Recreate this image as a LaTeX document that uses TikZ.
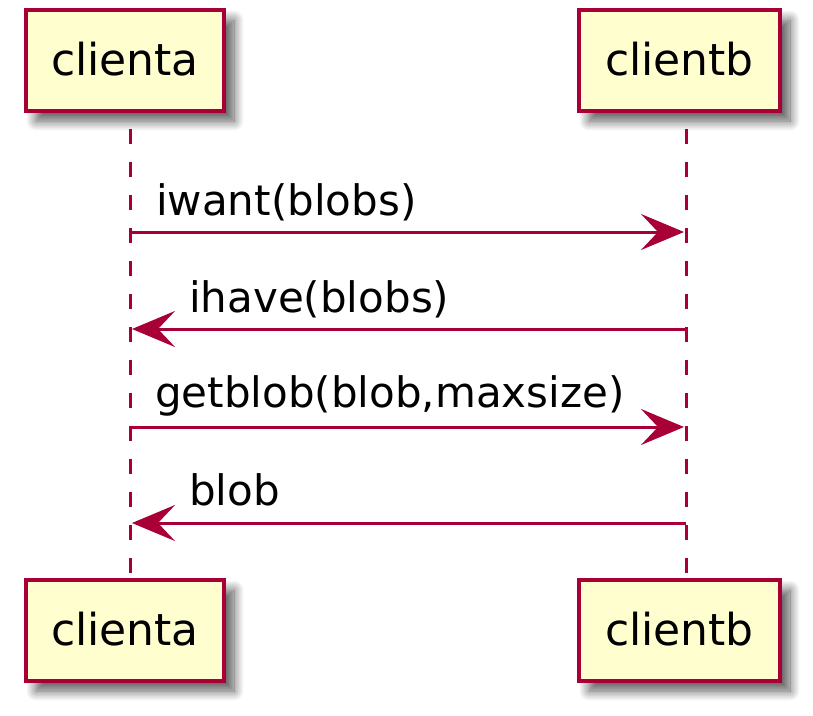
\documentclass[tikz,border=0pt]{standalone}
\usepackage{fontspec}
\setmainfont{DejaVu Sans}
\usetikzlibrary{arrows.meta,shadows.blur}
\definecolor{pborder}{HTML}{A80036}
\definecolor{pfill}{HTML}{FEFECE}
\tikzset{
  pbox/.style={draw=pborder, fill=pfill, line width=4pt, inner sep=0pt,
    minimum height=101pt, text height=30pt, text depth=0pt,
    font=\fontsize{44}{50}\selectfont,
    blur shadow={shadow xshift=10pt, shadow yshift=-10pt, shadow blur radius=10pt, shadow blur steps=12, shadow opacity=65}},
  lifeline/.style={draw=pborder, line width=3pt, dash pattern=on 15pt off 18pt},
  msg/.style={draw=pborder, line width=3pt, -{Stealth[length=43pt, width=36pt, inset=17pt]}, shorten >=2pt},
  msgtext/.style={anchor=base west, inner sep=0pt, font=\fontsize{42}{50}\selectfont}
}
\begin{document}
\begin{tikzpicture}[x=1pt,y=-1pt]
\useasboundingbox (0,0) rectangle (813,715);
% lifelines
\coordinate (at) at (130,129);
\coordinate (ab) at (130,580);
\coordinate (bt) at (686,129);
\coordinate (bb) at (686,580);
\draw[lifeline] (at) -- (ab);
\draw[lifeline] (bt) -- (bb);
% participant boxes
\node[pbox, minimum width=198pt] (ta) at (125,60.5) {clienta};
\node[pbox, minimum width=201pt] (tb) at (679.5,60.5) {clientb};
\node[pbox, minimum width=198pt] (ba) at (125,630.5) {clienta};
\node[pbox, minimum width=201pt] (bbx) at (679.5,630.5) {clientb};
% message anchors
\coordinate (a1) at (130,232); \coordinate (b1) at (686,232);
\coordinate (a2) at (130,329); \coordinate (b2) at (686,329);
\coordinate (a3) at (130,427); \coordinate (b3) at (686,427);
\coordinate (a4) at (130,523); \coordinate (b4) at (686,523);
\draw[msg] (a1) -- (b1);
\draw[msg] (b2) -- (a2);
\draw[msg] (a3) -- (b3);
\draw[msg] (b4) -- (a4);
\node[msgtext] (m1) at (156,215) {iwant(blobs)};
\node[msgtext] (m2) at (189,312) {ihave(blobs)};
\node[msgtext] (m3) at (155,407) {getblob(blob,maxsize)};
\node[msgtext] (m4) at (189,505) {blob};
\end{tikzpicture}
\end{document}
